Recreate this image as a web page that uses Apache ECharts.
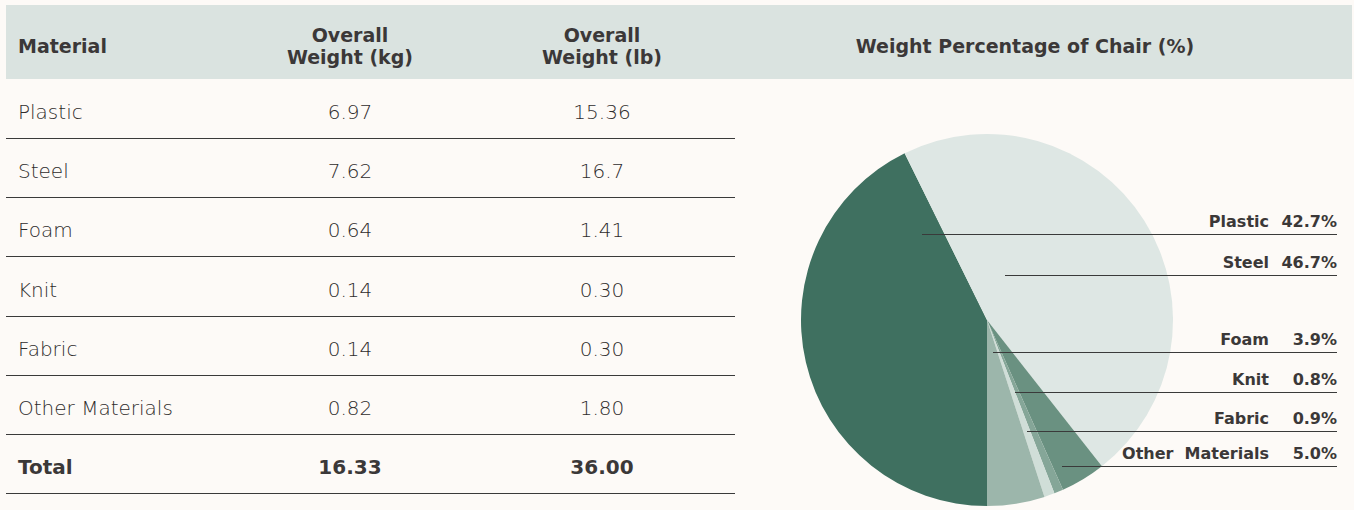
<!DOCTYPE html>
<html>
<head>
<meta charset="utf-8">
<script src="https://cdn.jsdelivr.net/npm/echarts@6/dist/echarts.min.js"></script>
<style>
  html, body { margin: 0; padding: 0; background: #fdfaf7; }
  #main { width: 1354px; height: 510px; }
</style>
</head>
<body>
<div id="main"></div>
<script>
// table + pie data
var headers = ['Material', 'Overall\nWeight (kg)', 'Overall\nWeight (lb)'];
var materials = ['Plastic', 'Steel', 'Foam', 'Knit', 'Fabric', 'Other Materials'];
var weightKg = ['6.97', '7.62', '0.64', '0.14', '0.14', '0.82'];
var weightLb = ['15.36', '16.7', '1.41', '0.30', '0.30', '1.80'];
var totalRow = ['Total', '16.33', '36.00'];
var pieTitle = 'Weight Percentage of Chair (%)';
var percent = [42.7, 46.7, 3.9, 0.8, 0.9, 5.0];

var sliceColors = ['#3f7060', '#dee7e4', '#6a9181', '#85a698', '#d0ded8', '#9cb6ab'];

var FONT = '"DejaVu Sans", sans-serif';
var textDark = '#3b3838';

// label rows at the right of the pie (text y, line y, line start x)
var labelRows = [
  { y: 221, lineY: 234, x0: 922 },
  { y: 262, lineY: 275, x0: 1005 },
  { y: 339, lineY: 352, x0: 993 },
  { y: 379, lineY: 392, x0: 1015 },
  { y: 418, lineY: 431, x0: 1027 },
  { y: 453, lineY: 466, x0: 1062 }
];
var labelRight = 1337;

var colX = [18, 350, 602];
var colAlign = ['left', 'center', 'center'];
var rowStep = 59.2;

function txt(text, x, y, font, color, align) {
  return {
    type: 'text', silent: true,
    style: {
      text: text, x: x, y: y, font: font, fill: color,
      textAlign: align, textVerticalAlign: 'middle',
      align: align, verticalAlign: 'middle', lineHeight: 22
    }
  };
}

var graphics = [];
graphics.push({ type: 'rect', silent: true, z: -1, shape: { x: 6, y: 5, width: 1346, height: 74 }, style: { fill: '#dae3e0' } });

headers.forEach(function (h, c) {
  graphics.push(txt(h, colX[c], 46, 'bold 19px ' + FONT, textDark, colAlign[c]));
});
graphics.push(txt(pieTitle, 1025, 46, 'bold 19px ' + FONT, textDark, 'center'));

var rows = materials.map(function (m, i) { return [m, weightKg[i], weightLb[i]]; });
rows.push(totalRow);
rows.forEach(function (r, i) {
  var cy = 112 + i * rowStep;
  var isTotal = i === rows.length - 1;
  r.forEach(function (v, c) {
    graphics.push(txt(v, colX[c], cy, (isTotal ? 'bold 20px ' : '200 20px ') + FONT,
      isTotal ? textDark : '#2f2c2c', colAlign[c]));
  });
  var ly = Math.round(138 + i * rowStep) + 0.5;
  graphics.push({
    type: 'line', silent: true,
    shape: { x1: 6, y1: ly, x2: 735, y2: ly },
    style: { stroke: '#3a3a3a', lineWidth: 1 }
  });
});

// leader lines from inside each slice to the label column
labelRows.forEach(function (r) {
  graphics.push({
    type: 'line', silent: true, z: 100,
    shape: { x1: r.x0, y1: r.lineY + 0.5, x2: labelRight, y2: r.lineY + 0.5 },
    style: { stroke: '#3a3a3a', lineWidth: 1 }
  });
});

var labelFont = { fontFamily: FONT, fontWeight: 'bold', fontSize: 16, color: textDark };

var chart = echarts.init(document.getElementById('main'), null, { renderer: 'svg' });
chart.setOption({
  backgroundColor: '#fdfaf7',
  animation: false,
  graphic: { elements: graphics },
  series: [{
    type: 'pie',
    center: [987, 320],
    radius: 186,
    startAngle: 270,
    clockwise: true,
    silent: true,
    avoidLabelOverlap: false,
    data: materials.map(function (m, i) {
      return { name: m, value: percent[i], itemStyle: { color: sliceColors[i] } };
    }),
    label: {
      show: true,
      position: 'outside',
      fontFamily: FONT, fontWeight: 'bold', fontSize: 16, color: textDark,
      formatter: function (p) {
        return '{n|' + p.name.replace(' ', '  ') + '}{v|' + p.value.toFixed(1) + '%}';
      },
      rich: {
        n: labelFont,
        v: Object.assign({ width: 68, align: 'right' }, labelFont)
      }
    },
    labelLine: { show: false },
    labelLayout: function (p) {
      var r = labelRows[p.dataIndex];
      return { x: labelRight, y: r.y, align: 'right', verticalAlign: 'middle' };
    }
  }]
});
</script>
</body>
</html>
